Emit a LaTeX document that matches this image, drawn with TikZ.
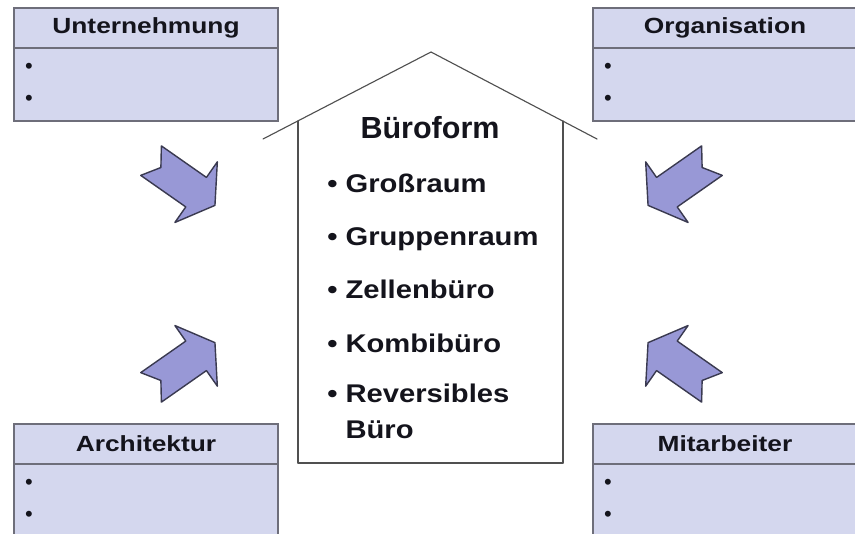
\documentclass[tikz,border=0pt]{standalone}
\usepackage{fontspec}
\setmainfont{Liberation Sans}
\usepackage{graphicx}
\usepackage{tkz-euclide}
\usetikzlibrary{positioning}

\definecolor{boxFill}{RGB}{212,215,238}
\definecolor{boxLine}{RGB}{110,110,122}
\definecolor{arrowFill}{RGB}{152,152,214}
\definecolor{arrowLine}{RGB}{58,58,80}
\definecolor{houseLine}{RGB}{80,80,80}
\definecolor{txt}{RGB}{20,20,28}

\newcommand{\myWide}[2]{\scalebox{#1}[1]{#2}}
\newcommand{\myBox}[4]{
\node[header] (#1) at (#2) {\myWide{1.2}{#3}};
\node[body, minimum height=#4, below=0pt of #1] (#1Body) {};
\node[dot] (#1A) at ([xshift=.375cm, yshift=-.5cm]#1Body.north west) {\textbullet};
\node[dot] (#1B) at ([xshift=.375cm, yshift=-1.3cm]#1Body.north west) {\textbullet};
}
\newcommand{\myArrow}[3]{
\coordinate (#1) at (#2);
\draw[arrowShape, shift={(#1)}, rotate=#3]
  (-39,18) -- (16,18) -- (16,37) -- (39,0) -- (16,-37) -- (16,-18) -- (-39,-18) -- (-27,0) -- cycle;
}

\begin{document}
\begin{tikzpicture}[x=0.025cm, y=-0.025cm,
  header/.style={draw=boxLine, fill=boxFill, line width=1pt, outer sep=0pt, inner sep=0pt,
    minimum width=6.6cm, minimum height=1cm, text=txt, font=\fontsize{15.6}{18}\selectfont\bfseries},
  body/.style={draw=boxLine, fill=boxFill, line width=1pt, outer sep=0pt, inner sep=0pt, minimum width=6.6cm},
  dot/.style={inner sep=0pt, text=txt, font=\fontsize{15.6}{18}\selectfont},
  arrowShape/.style={draw=arrowLine, fill=arrowFill, line width=1pt, line join=round},
  title/.style={anchor=base, text=txt, font=\fontsize{21.7}{26}\selectfont\bfseries},
  item/.style={anchor=base west, inner sep=0pt, align=left, text=txt,
    font=\fontsize{18.2}{24.9}\selectfont\bfseries}]
\useasboundingbox (0,0) rectangle (855,533);
\fill[white] (0,0) rectangle (855,533);
\clip (0,0) rectangle (855,533);

	% house
	\tkzDefPoints{263/139/L, 431/52/T, 597/139/R, 298/121/P, 563/121/Q, 298/463/M, 563/463/N}
	\tkzDrawSegments[color=houseLine, line width=.8pt](L,T T,R P,M M,N N,Q)

	\node[title] (form) at (430,138) {Büroform};
	\node[item] (item1) at (327,192) {\myWide{1.14}{\textbullet{} Großraum}};
	\node[item] (item2) at (327,245) {\myWide{1.14}{\textbullet{} Gruppenraum}};
	\node[item] (item3) at (327,298) {\myWide{1.14}{\textbullet{} Zellenbüro}};
	\node[item] (item4) at (327,352) {\myWide{1.14}{\textbullet{} Kombibüro}};
	% base of a two-line node is its last line
	\node[item] (item5) at (327,438) {\myWide{1.14}{\textbullet{} Reversibles}\\
	  \myWide{1.14}{\phantom{\textbullet{} }Büro}};

	% boxes
	\myBox{unt}{146,28}{Unternehmung}{1.825cm}
	\myBox{org}{725,28}{Organisation}{1.825cm}
	\myBox{arch}{146,444}{Architektur}{3cm}
	\myBox{mit}{725,444}{Mitarbeiter}{3cm}

	% arrows
	\myArrow{ul}{183,183}{-35}
	\myArrow{ll}{183,365}{35}
	\myArrow{ur}{680,183}{215}
	\myArrow{lr}{680,365}{145}
\end{tikzpicture}
\end{document}
